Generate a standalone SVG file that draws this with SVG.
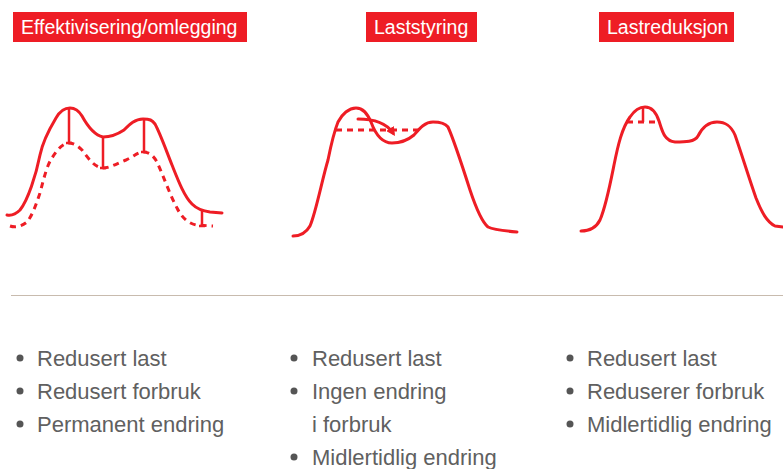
<svg xmlns="http://www.w3.org/2000/svg" width="783" height="469" viewBox="0 0 783 469">
<defs>
<style>
.hdr{fill:#ee1d25}
.hdrt{fill:#ffffff;font-family:"Liberation Sans",Arial,sans-serif;font-size:19.5px}
.c{fill:none;stroke:#ee1d25;stroke-width:3;stroke-linecap:round;stroke-linejoin:round}
.d{fill:none;stroke:#ee1d25;stroke-width:3;stroke-dasharray:6 5}
.v{fill:none;stroke:#ee1d25;stroke-width:2.5}
.bt{fill:#606060;font-family:"Liberation Sans",Arial,sans-serif;font-size:22px}
.dot{fill:#555555}
</style>
<marker id="ah" viewBox="0 0 10 10" refX="6" refY="5" markerWidth="3" markerHeight="3" orient="auto">
<path d="M0,0 L10,5 L0,10 Z" fill="#ee1d25"/>
</marker>
</defs>
<rect width="783" height="469" fill="#ffffff"/>

<g id="header1">
<rect class="hdr" x="13" y="12" width="234" height="30"/>
<text class="hdrt" x="21" y="34">Effektivisering/omlegging</text>
</g>
<g id="header2">
<rect class="hdr" x="366" y="12" width="111" height="30"/>
<text class="hdrt" x="374" y="34">Laststyring</text>
</g>
<g id="header3">
<rect class="hdr" x="599" y="12" width="135" height="30"/>
<text class="hdrt" x="607" y="34">Lastreduksjon</text>
</g>

<g id="chart1">
<path class="c" d="M7,215 C12,216 16,214 20,210 C28,200 36,175 40,155 C43,140 50,128 56,118 C60,111 64,108 70,108 C76,108 79,111 82,116 C88,127 94,135 103,137 C110,137 118,134 124,130 C130,124 135,119 143,119 C150,119 152,120 155,124 C160,133 166,150 172,165 C178,180 184,196 192,204 C197,209 202,211 210,212 L222,213"/>
<path class="d" d="M10,226 C16,228 22,226 27,222 C32,216 36,205 40,193 C44,178 47,165 52,158 C57,150 62,144 68,143 C74,143 78,146 82,150 C88,158 95,168 103,168 C110,168 118,163 126,160 C133,157 138,152 143,152 C149,152 153,155 157,162 C163,175 170,195 177,208 C182,218 188,223 196,225 L213,226"/>
<path class="v" d="M69,108 V143 M66,143 H72 M103,137 V168 M100,168 H106 M144,119 V152 M141,152 H147 M202,211 V226 M199,226 H205"/>
</g>

<g id="chart2">
<path class="c" d="M293,236 C300,236 306,233 310,226 C316,212 322,180 328,160 C331,145 334,132 338,122 C342,114 349,108 356,108 C363,108 367,113 371,122 C375,133 381,143 392,143 C400,143 408,140 414,135 C420,128 425,122 433,122 C440,122 445,123 448,127 C454,140 462,165 470,190 C476,208 482,222 488,227 C494,230 505,231 517,232"/>
<path class="d" d="M336,130 H421" stroke-dasharray="7 5"/>
<path class="c" d="M358,119 C374,119 387,124 393,133" marker-end="url(#ah)"/>
</g>

<g id="chart3">
<path class="c" d="M581,231 C590,231 596,228 600,220 C606,206 610,185 614,165 C618,145 622,128 630,117 C634,111 638,107 645,107 C652,107 656,112 659,121 C662,130 664,141 675,142 C685,142 695,142 698,136 C702,128 708,122 717,122 C726,122 731,126 735,135 C741,152 748,175 756,198 C762,213 767,222 775,226 L783,227"/>
<path class="d" d="M627,122 H660" stroke-dasharray="7 5"/>
<path class="v" d="M643,107 V122"/>
</g>

<line x1="11" y1="295.5" x2="783" y2="295.5" stroke="#c8bbae" stroke-width="1.2"/>

<g id="list1">
<circle class="dot" cx="20" cy="358" r="3.5"/>
<text class="bt" x="37" y="366">Redusert last</text>
<circle class="dot" cx="20" cy="391" r="3.5"/>
<text class="bt" x="37" y="399">Redusert forbruk</text>
<circle class="dot" cx="20" cy="424" r="3.5"/>
<text class="bt" x="37" y="432">Permanent endring</text>
</g>
<g id="list2">
<circle class="dot" cx="294" cy="358" r="3.5"/>
<text class="bt" x="312" y="366">Redusert last</text>
<circle class="dot" cx="294" cy="391" r="3.5"/>
<text class="bt" x="312" y="399">Ingen endring</text>
<text class="bt" x="312" y="432">i forbruk</text>
<circle class="dot" cx="294" cy="457" r="3.5"/>
<text class="bt" x="312" y="465">Midlertidlig endring</text>
</g>
<g id="list3">
<circle class="dot" cx="570" cy="358" r="3.5"/>
<text class="bt" x="587" y="366">Redusert last</text>
<circle class="dot" cx="570" cy="391" r="3.5"/>
<text class="bt" x="587" y="399">Reduserer forbruk</text>
<circle class="dot" cx="570" cy="424" r="3.5"/>
<text class="bt" x="587" y="432">Midlertidlig endring</text>
</g>
</svg>
